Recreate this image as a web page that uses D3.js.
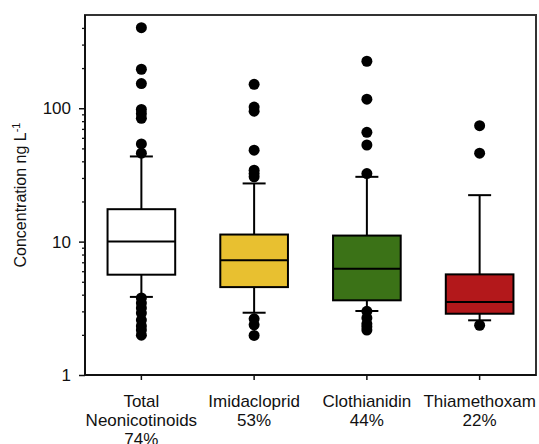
<!DOCTYPE html>
<html>
<head>
<meta charset="utf-8">
<script src="https://cdn.jsdelivr.net/npm/d3@7"></script>
<style>
  body { margin: 0; background: #fff; }
  text { font-family: "Liberation Sans", Arial, sans-serif; fill: #111; }
</style>
</head>
<body>
<svg id="chart" width="539" height="444"></svg>
<script>
// compounds along the x axis, with their detection frequency
const categories = ['Total Neonicotinoids', 'Imidacloprid', 'Clothianidin', 'Thiamethoxam']
const labelLines = [['Total', 'Neonicotinoids', '74%'], ['Imidacloprid', '53%'], ['Clothianidin', '44%'], ['Thiamethoxam', '22%']]
const boxColours = ['#ffffff', '#e8c030', '#3b7217', '#b3181b']

// box statistics, ng/L
const whiskerLow = [3.85, 2.93, 3.02, 2.57]
const q1 = [5.65, 4.56, 3.63, 2.88]
const median = [10, 7.25, 6.25, 3.52]
const q3 = [17.5, 11.3, 11.1, 5.68]
const whiskerHigh = [43.5, 27.3, 30.6, 22.3]

// points outside the whiskers
const outliers = [
  [402, 196, 153, 98, 91, 84, 54, 46, 3.78, 3.46, 3.18, 2.91, 2.58, 2.33, 2.17, 1.99],
  [151, 102, 95, 48.5, 34.3, 32.4, 30.6, 2.64, 2.38, 1.98],
  [225, 117, 66, 53, 32.4, 3.0, 2.68, 2.42, 2.3, 2.17],
  [74, 46, 2.36]
]

const yMajor = [1, 10, 100]
const yMinor = [2, 3, 4, 5, 6, 7, 8, 9, 20, 30, 40, 50, 60, 70, 80, 90, 200, 300, 400]

const margin = { top: 15, right: 3, bottom: 69, left: 85 }
const width = 539 - margin.left - margin.right
const height = 444 - margin.top - margin.bottom

const svg = d3.select('#chart')
const g = svg.append('g').attr('transform', `translate(${margin.left},${margin.top})`)

const x = d3.scaleBand().domain(categories).range([0, width]).padding(0)
const y = d3.scaleLog().domain([1, 500]).range([height, 0])

const boxWidth = x.bandwidth() * 0.6
const capWidth = 23

// frame (top and right sides)
g.append('rect')
    .attr('x', 0)
    .attr('y', 0)
    .attr('width', width)
    .attr('height', height)
    .attr('fill', 'none')
    .attr('stroke', '#333')
    .attr('stroke-width', 2)

// y axis, minor then major ticks
g.append('g')
    .call(d3.axisLeft(y).tickValues(yMinor).tickSize(3).tickFormat(''))
    .call(a => a.select('.domain').remove())
    .call(a => a.selectAll('line').attr('stroke', '#111').attr('stroke-width', 1.3))

g.append('g')
    .call(d3.axisLeft(y).tickValues(yMajor).tickSize(6).tickPadding(8).tickFormat(d3.format('d')))
    .call(a => a.select('.domain').attr('stroke', '#111').attr('stroke-width', 2).attr('d', `M0,0V${height}`))
    .call(a => a.selectAll('line').attr('stroke', '#111').attr('stroke-width', 1.5))
    .call(a => a.selectAll('text').attr('font-size', 17).style('font-family', '"Liberation Sans", Arial, sans-serif').attr('fill', '#111'))

// x axis
const xAxis = g.append('g')
    .attr('transform', `translate(0,${height})`)
    .call(d3.axisBottom(x).tickSize(5).tickFormat(''))
xAxis.select('.domain').attr('stroke', '#111').attr('stroke-width', 2).attr('d', `M0,0H${width}`)
xAxis.selectAll('line').attr('stroke', '#111').attr('stroke-width', 1.5)

categories.forEach((c, i) => {
  const t = xAxis.append('text')
      .attr('x', x(c) + x.bandwidth() / 2)
      .attr('y', 32)
      .attr('text-anchor', 'middle')
      .attr('font-size', 17)
  labelLines[i].forEach((line, j) => {
    t.append('tspan')
        .attr('x', x(c) + x.bandwidth() / 2)
        .attr('dy', j === 0 ? 0 : 19)
        .text(line)
  })
})

// y label
svg.append('text')
    .attr('transform', `translate(26,${margin.top + 180}) rotate(-90)`)
    .attr('text-anchor', 'middle')
    .attr('font-size', 16)
    .text('Concentration ng L')
    .append('tspan')
    .attr('dy', -6)
    .attr('font-size', 11)
    .text('-1')

// boxes
const boxes = g.selectAll('.box')
    .data(categories)
    .join('g')
    .attr('class', 'box')
    .attr('transform', d => `translate(${x(d) + x.bandwidth() / 2},0)`)

// whiskers
boxes.append('line')
    .attr('y1', (d, i) => y(whiskerLow[i]))
    .attr('y2', (d, i) => y(whiskerHigh[i]))
    .attr('stroke', '#000')
    .attr('stroke-width', 2)

boxes.each(function (d, i) {
  const b = d3.select(this)
  ;[whiskerLow[i], whiskerHigh[i]].forEach(v => {
    b.append('line')
        .attr('x1', -capWidth / 2)
        .attr('x2', capWidth / 2)
        .attr('y1', y(v))
        .attr('y2', y(v))
        .attr('stroke', '#000')
        .attr('stroke-width', 2)
  })
})

boxes.append('rect')
    .attr('x', -boxWidth / 2)
    .attr('width', boxWidth)
    .attr('y', (d, i) => y(q3[i]))
    .attr('height', (d, i) => y(q1[i]) - y(q3[i]))
    .attr('fill', (d, i) => boxColours[i])
    .attr('stroke', '#000')
    .attr('stroke-width', 2)

boxes.append('line')
    .attr('x1', -boxWidth / 2)
    .attr('x2', boxWidth / 2)
    .attr('y1', (d, i) => y(median[i]))
    .attr('y2', (d, i) => y(median[i]))
    .attr('stroke', '#000')
    .attr('stroke-width', 2)

// outlier points
boxes.each(function (d, i) {
  d3.select(this).selectAll('circle')
      .data(outliers[i])
      .join('circle')
      .attr('cx', 0)
      .attr('cy', v => y(v))
      .attr('r', 5.5)
      .attr('fill', '#000')
})
</script>
</body>
</html>
